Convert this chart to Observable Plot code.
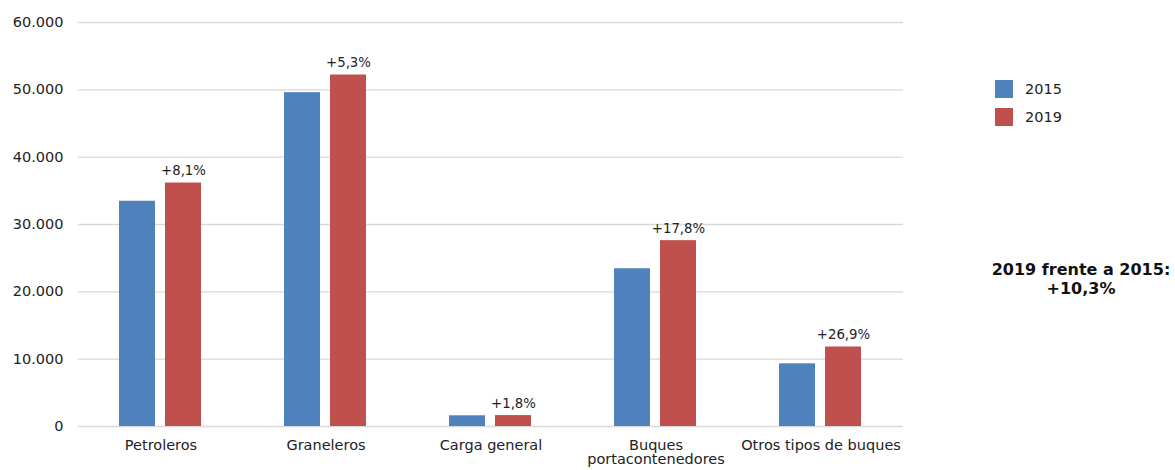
<!DOCTYPE html>
<html>
<head>
<meta charset="utf-8">
<script src="https://cdn.jsdelivr.net/npm/d3@7"></script>
<script src="https://cdn.jsdelivr.net/npm/@observablehq/plot@0.6"></script>
<style>
  html, body { margin: 0; padding: 0; background: #fff; }
  #wrap { position: relative; width: 1175px; height: 470px; font-family: "DejaVu Sans", Verdana, sans-serif; color: #222; }
  #chart svg { display: block; }
  .legend { position: absolute; left: 995px; top: 80px; font-size: 14.5px; }
  .legend .item { position: relative; height: 28px; }
  .legend .sw { position: absolute; left: 0; top: 0; width: 18px; height: 18px; }
  .legend .lb { position: absolute; left: 30px; top: 0; line-height: 18px; white-space: nowrap; }
  .note { position: absolute; left: 971px; width: 220px; top: 261px; text-align: center; font-weight: bold; font-size: 16px; line-height: 18.5px; color: #111; }
</style>
</head>
<body>
<div id="wrap">
  <div id="chart"></div>
  <div class="legend" id="legend"></div>
  <div class="note" id="note"></div>
</div>
<script>
const categories = ["Petroleros", "Graneleros", "Carga general", "Buques portacontenedores", "Otros tipos de buques"];
const years = ["2015", "2019"];
const values2015 = [33450, 49580, 1590, 23430, 9310];
const values2019 = [36160, 52200, 1620, 27600, 11810];
const changes = ["+8,1%", "+5,3%", "+1,8%", "+17,8%", "+26,9%"];
const yTicks = [0, 10000, 20000, 30000, 40000, 50000, 60000];
const colors = ["#4f81bd", "#c0504d"];
const noteLines = ["2019 frente a 2015:", "+10,3%"];

const data = [];
categories.forEach((c, i) => {
  data.push({category: c, year: years[0], value: values2015[i], change: ""});
  data.push({category: c, year: years[1], value: values2019[i], change: changes[i]});
});
const labelData = data.filter(d => d.year === years[1]);

const fmt = d => d3.format(",")(d).replace(/,/g, ".");

const chart = Plot.plot({
  width: 1175,
  height: 470,
  marginLeft: 78,
  marginRight: 272,
  marginTop: 22,
  marginBottom: 44,
  style: {fontFamily: "DejaVu Sans, Verdana, sans-serif", fontSize: "14.5px", color: "#222", background: "#fff"},
  fx: {domain: categories, padding: 0, label: null, axis: "bottom", tickSize: 0, tickPadding: 13,
       tickFormat: d => d === "Buques portacontenedores" ? "Buques\nportacontenedores" : d},
  x: {domain: years, paddingInner: 0.213, paddingOuter: 0.862, axis: null},
  y: {domain: [0, 60000], ticks: yTicks, tickFormat: fmt, tickSize: 0, tickPadding: 15, label: null},
  color: {domain: years, range: colors},
  marks: [
    Plot.ruleY(yTicks, {stroke: "#d9d9d9", strokeWidth: 1.3}),
    Plot.barY(data, {fx: "category", x: "year", y: "value", fill: "year"}),
    Plot.text(labelData, {fx: "category", x: "year", y: "value", text: "change", dy: -12, fontSize: 13.3, fill: "#222"})
  ]
});
document.getElementById("chart").appendChild(chart);

const legend = document.getElementById("legend");
years.forEach((y, i) => {
  const item = document.createElement("div");
  item.className = "item";
  item.innerHTML = `<div class="sw" style="background:${colors[i]}"></div><div class="lb">${y}</div>`;
  legend.appendChild(item);
});
document.getElementById("note").innerHTML = noteLines.join("<br>");
</script>
</body>
</html>
